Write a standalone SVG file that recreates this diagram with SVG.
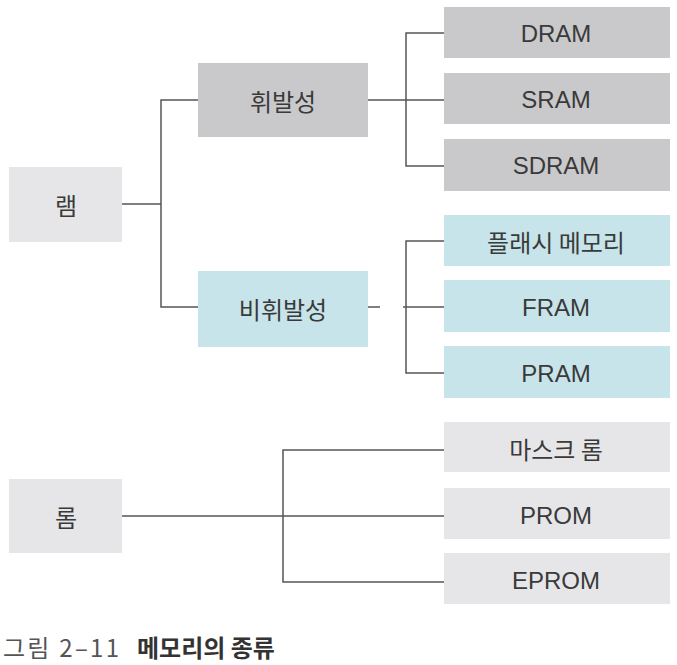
<svg xmlns="http://www.w3.org/2000/svg" width="677" height="665" viewBox="0 0 677 665">
<style>
.t{font-family:"Liberation Sans","Noto Sans CJK KR",sans-serif;font-size:24px;fill:#3a3a3a;text-anchor:middle;dominant-baseline:central}
.k{font-family:"Noto Sans CJK KR","Liberation Sans",sans-serif;font-size:24px;fill:#3a3a3a;text-anchor:middle;dominant-baseline:central}
.g1{fill:#e6e6e8}
.g2{fill:#c9c9cb}
.b{fill:#c6e4e9}
.c{fill:none;stroke:#555;stroke-width:1.5}
</style>
<rect width="677" height="665" fill="#fff"/>
<g id="connectors">
<polyline class="c" points="122,204 161,204"/>
<polyline class="c" points="198,100 161,100 161,307 198,307"/>
<polyline class="c" points="368,100 444,100"/>
<polyline class="c" points="444,33 406,33 406,166 444,166"/>
<polyline class="c" points="368,307 380,307"/>
<polyline class="c" points="403,307 444,307"/>
<polyline class="c" points="444,241 406,241 406,373 444,373"/>
<polyline class="c" points="122,516 444,516"/>
<polyline class="c" points="444,450 283,450 283,582 444,582"/>
</g>
<g id="ram"><rect class="g1" x="9" y="167" width="113" height="75"/><text class="k" x="66" y="204">램</text></g>
<g id="volatile"><rect class="g2" x="198" y="63" width="170" height="74"/><text class="k" x="283" y="100">휘발성</text></g>
<g id="dram"><rect class="g2" x="444" y="7" width="226" height="51"/><text class="t" x="556" y="33">DRAM</text></g>
<g id="sram"><rect class="g2" x="444" y="73" width="226" height="51"/><text class="t" x="556" y="99">SRAM</text></g>
<g id="sdram"><rect class="g2" x="444" y="139" width="226" height="52"/><text class="t" x="556" y="165">SDRAM</text></g>
<g id="nonvolatile"><rect class="b" x="198" y="271" width="170" height="76"/><text class="k" x="283" y="308">비휘발성</text></g>
<g id="flash"><rect class="b" x="444" y="215" width="226" height="51"/><text class="k" x="556" y="241">플래시 메모리</text></g>
<g id="fram"><rect class="b" x="444" y="280" width="226" height="52"/><text class="t" x="556" y="307">FRAM</text></g>
<g id="pram"><rect class="b" x="444" y="346" width="226" height="52"/><text class="t" x="556" y="373">PRAM</text></g>
<g id="rom"><rect class="g1" x="9" y="479" width="113" height="74"/><text class="k" x="66" y="516">롬</text></g>
<g id="maskrom"><rect class="g1" x="444" y="422" width="226" height="50"/><text class="k" x="556" y="448">마스크 롬</text></g>
<g id="prom"><rect class="g1" x="444" y="488" width="226" height="51"/><text class="t" x="556" y="515">PROM</text></g>
<g id="eprom"><rect class="g1" x="444" y="553" width="226" height="51"/><text class="t" x="556" y="580">EPROM</text></g>
<g id="caption">
<text x="3" y="657" textLength="116" lengthAdjust="spacing" style="font-family:'Noto Sans CJK KR',sans-serif;font-size:24px;fill:#555">그림 2–11</text>
<text x="137" y="657" style="font-family:'Noto Sans CJK KR',sans-serif;font-size:24px;font-weight:bold;fill:#333">메모리의 종류</text>
</g>
</svg>
